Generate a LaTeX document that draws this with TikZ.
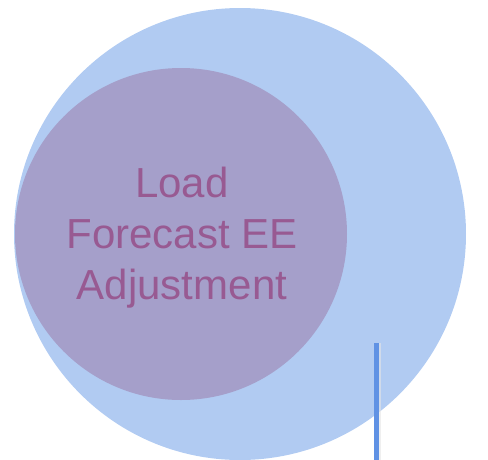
\documentclass[tikz,border=0pt]{standalone}
\usepackage{fontspec}
\setmainfont{Liberation Sans}
\definecolor{outerblue}{RGB}{177,203,242}
\definecolor{innerpurple}{RGB}{165,159,202}
\definecolor{labelpurple}{RGB}{152,90,146}
\definecolor{lineblue}{RGB}{96,146,228}
\tikzset{
  bigcircle/.style={circle, fill=outerblue, draw=none, minimum size=452pt, inner sep=0pt},
  smallcircle/.style={circle, fill=innerpurple, draw=none, minimum size=332pt, inner sep=0pt},
  labeltext/.style={text=labelpurple, font=\fontsize{42}{51}\selectfont, align=center},
  bar/.style={draw=lineblue, line width=5pt}
}
\begin{document}
\begin{tikzpicture}[x=1pt,y=-1pt]
\useasboundingbox (0,0) rectangle (488,459);
\node[bigcircle] (outer) at (240,234) {};
\node[smallcircle] (inner) at (181,234) {};
\node[labeltext] (label) at (182,238) {Load\\Forecast EE\\Adjustment};
\coordinate (bartop) at (376,343);
\coordinate (barbottom) at (376,462);
\draw[draw=black!10, line width=3pt, opacity=0.6] ([xshift=3pt]bartop) -- ([xshift=3pt]barbottom);
\draw[bar] (bartop) -- (barbottom);
\end{tikzpicture}
\end{document}
